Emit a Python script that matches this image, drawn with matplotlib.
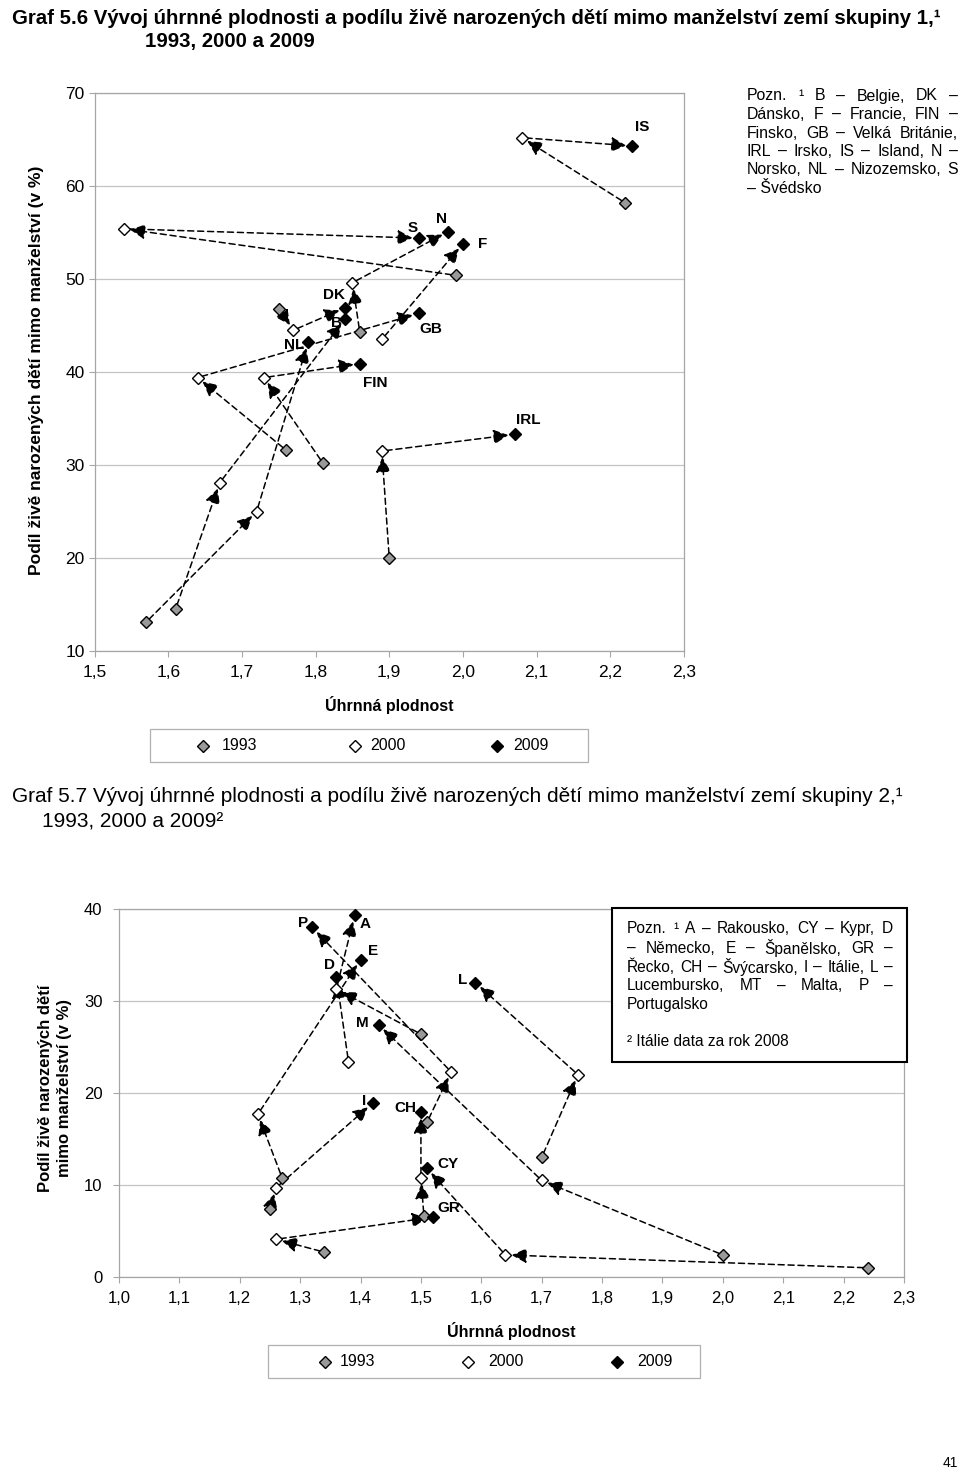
import numpy as np
import matplotlib
matplotlib.use('Agg')
import matplotlib.pyplot as plt
from matplotlib.lines import Line2D
from matplotlib.patches import Rectangle

nan = np.nan

# --- Graf 5.6: group 1 countries ---
top_countries = ['B', 'DK', 'F', 'FIN', 'GB', 'IRL', 'IS', 'N', 'NL', 'S']
top_tfr_1993 = [1.61, 1.75, nan, 1.81, 1.76, 1.90, 2.22, 1.86, 1.57, 1.99]
top_nm_1993 = [14.5, 46.8, nan, 30.2, 31.6, 20.0, 58.2, 44.3, 13.1, 50.4]
top_tfr_2000 = [1.67, 1.77, 1.89, 1.73, 1.64, 1.89, 2.08, 1.85, 1.72, 1.54]
top_nm_2000 = [28.1, 44.5, 43.5, 39.4, 39.4, 31.5, 65.2, 49.6, 25.0, 55.4]
top_tfr_2009 = [1.84, 1.84, 2.00, 1.86, 1.94, 2.07, 2.23, 1.98, 1.79, 1.94]
top_nm_2009 = [45.7, 46.9, 53.8, 40.9, 46.3, 33.3, 64.3, 55.1, 43.2, 54.4]
top_xticks = [1.5, 1.6, 1.7, 1.8, 1.9, 2.0, 2.1, 2.2, 2.3]
top_xticklabels = ['1,5', '1,6', '1,7', '1,8', '1,9', '2,0', '2,1', '2,2', '2,3']
top_yticks = [10, 20, 30, 40, 50, 60, 70]

# --- Graf 5.7: group 2 countries ---
bot_countries = ['A', 'CY', 'D', 'E', 'GR', 'CH', 'I', 'L', 'M', 'P']
bot_tfr_1993 = [1.50, 2.24, nan, 1.27, 1.34, 1.505, 1.25, 1.70, 2.00, 1.51]
bot_nm_1993 = [26.4, 1.0, nan, 10.8, 2.7, 6.6, 7.4, 13.0, 2.4, 16.8]
bot_tfr_2000 = [1.36, 1.64, 1.38, 1.23, 1.26, 1.50, 1.26, 1.76, 1.70, 1.55]
bot_nm_2000 = [31.3, 2.4, 23.4, 17.7, 4.1, 10.8, 9.7, 22.0, 10.5, 22.3]
bot_tfr_2009 = [1.39, 1.51, 1.36, 1.40, 1.52, 1.50, 1.42, 1.59, 1.43, 1.32]
bot_nm_2009 = [39.3, 11.8, 32.6, 34.5, 6.5, 17.9, 18.9, 32.0, 27.4, 38.0]
bot_xticks = [1.0, 1.1, 1.2, 1.3, 1.4, 1.5, 1.6, 1.7, 1.8, 1.9, 2.0, 2.1, 2.2, 2.3]
bot_xticklabels = ['1,0', '1,1', '1,2', '1,3', '1,4', '1,5', '1,6', '1,7', '1,8',
                   '1,9', '2,0', '2,1', '2,2', '2,3']
bot_yticks = [0, 10, 20, 30, 40]

years = ['1993', '2000', '2009']
year_colors = ['#999999', 'white', 'black']

# label offsets (points) from the 2009 marker
top_label_off = {'B': (-6.5, -3), 'DK': (-8, 9), 'F': (14, 0), 'FIN': (11, -14),
                 'GB': (9, -11), 'IRL': (10, 10), 'IS': (7, 14), 'N': (-5, 9),
                 'NL': (-10, -2), 'S': (-4, 7)}
bot_label_off = {'A': (8, -6), 'CY': (15, 3), 'D': (-5, 9), 'E': (9, 6.5),
                 'GR': (11.5, 6.5), 'CH': (-11, 3), 'I': (-6, 1.5), 'L': (-9, 2),
                 'M': (-11.5, 1.5), 'P': (-6.5, 3)}

W, H = 960, 1476


def fx(px):
    return px / W


def fy(py):
    return 1 - py / H


plt.rcParams['font.family'] = ['Liberation Sans', 'DejaVu Sans']
fig = plt.figure(figsize=(9.6, 14.76), dpi=100)
renderer = fig.canvas.get_renderer()


def draw_chart(ax, series, names, offsets):
    (ta, na), (tb, nb), (tc, nc) = series
    for i in range(len(names)):
        pts = [(ta[i], na[i]), (tb[i], nb[i]), (tc[i], nc[i])]
        pts = [p for p in pts if not np.isnan(p[0])]
        for p, q in zip(pts[:-1], pts[1:]):
            ax.annotate('', xy=q, xytext=p,
                        arrowprops=dict(arrowstyle='-|>,head_length=0.6,head_width=0.3',
                                        color='black', lw=1.1, linestyle=(0, (4, 2.5)),
                                        shrinkA=3, shrinkB=4.5, mutation_scale=15),
                        zorder=2)
    for (t, n), c in zip(series, year_colors):
        ax.plot(t, n, ls='none', marker='D', ms=6.5, mfc=c, mec='black', mew=1, zorder=3)
    for i, name in enumerate(names):
        ax.annotate(name, xy=(tc[i], nc[i]), xytext=offsets[name], textcoords='offset points',
                    ha='center', va='center', fontsize=11, fontweight='bold', zorder=4)


def style_axes(ax, xt, xtl, yt, pad_y, size):
    ax.set_xticks(xt)
    ax.set_xticklabels(xtl)
    ax.set_yticks(yt)
    ax.grid(axis='y', color='#c4c4c4', lw=0.9)
    ax.set_axisbelow(True)
    for s in ax.spines.values():
        s.set_color('#a6a6a6')
        s.set_linewidth(0.9)
    ax.tick_params(axis='both', direction='out', length=4, color='#a6a6a6', labelsize=size)
    ax.tick_params(axis='x', pad=6)
    ax.tick_params(axis='y', pad=pad_y)


def draw_legend(box, items):
    x0, y0, x1, y1 = box
    fig.add_artist(Rectangle((fx(x0), fy(y1)), fx(x1) - fx(x0), fy(y0) - fy(y1),
                             transform=fig.transFigure, fill=False,
                             edgecolor='#b0b0b0', lw=0.9))
    yc = fy((y0 + y1) / 2)
    for (mx, tx), c, lab in zip(items, year_colors, years):
        fig.add_artist(Line2D([fx(mx)], [yc], transform=fig.transFigure, ls='none',
                              marker='D', ms=6.5, mfc=c, mec='black', mew=1))
        fig.text(fx(tx), yc, lab, fontsize=11.5, va='center')


def justify(lines, x0, x1, y0, dy, size):
    for k, line in enumerate(lines):
        y = fy(y0 + k * dy)
        words = line.split()
        arts = [fig.text(0, y, w, fontsize=size, va='center', zorder=6) for w in words]
        widths = [a.get_window_extent(renderer).width for a in arts]
        gap = (x1 - x0 - sum(widths)) / (len(words) - 1)
        x = x0
        for a, w in zip(arts, widths):
            a.set_x(fx(x))
            x += w + gap


# ---------- top chart ----------
fig.text(fx(12), fy(18), 'Graf 5.6 Vývoj úhrnné plodnosti a podílu živě narozených dětí mimo manželství zemí skupiny 1,¹',
         fontsize=14.7, fontweight='bold', va='center')
fig.text(fx(145), fy(42), '1993, 2000 a 2009', fontsize=14.7, fontweight='bold', va='center')

ax1 = fig.add_axes([fx(94.5), fy(651), fx(684) - fx(94.5), fy(93) - fy(651)])
ax1.set_xlim(1.5, 2.3)
ax1.set_ylim(10, 70)
style_axes(ax1, top_xticks, top_xticklabels, top_yticks, 3, 12.5)
draw_chart(ax1, [(top_tfr_1993, top_nm_1993), (top_tfr_2000, top_nm_2000),
                 (top_tfr_2009, top_nm_2009)], top_countries, top_label_off)

fig.text(fx(37), fy(370), 'Podíl živě narozených dětí mimo manželství (v %)', rotation=90,
         ha='center', va='center', fontsize=12.5, fontweight='bold')
fig.text(fx(389), fy(705), 'Úhrnná plodnost', ha='center', va='center', fontsize=11.5,
         fontweight='bold')
draw_legend((150, 729, 588, 762), [(203, 222), (355, 370), (497, 513)])

justify(['Pozn. ¹ B – Belgie, DK –',
         'Dánsko, F – Francie, FIN –',
         'Finsko, GB – Velká Británie,',
         'IRL – Irsko, IS – Island, N –',
         'Norsko, NL – Nizozemsko, S'], 747, 958, 96, 18.5, 11.4)
fig.text(fx(747), fy(96 + 5 * 18.5), '– Švédsko', fontsize=11.4, va='center')

# ---------- bottom chart ----------
fig.text(fx(12), fy(797), 'Graf 5.7 Vývoj úhrnné plodnosti a podílu živě narozených dětí mimo manželství zemí skupiny 2,¹',
         fontsize=15, va='center')
fig.text(fx(42), fy(822), '1993, 2000 a 2009²', fontsize=15, va='center')

ax2 = fig.add_axes([fx(119), fy(1277), fx(904) - fx(119), fy(909) - fy(1277)])
ax2.set_xlim(1.0, 2.3)
ax2.set_ylim(0, 40)
style_axes(ax2, bot_xticks, bot_xticklabels, bot_yticks, 8, 12)
draw_chart(ax2, [(bot_tfr_1993, bot_nm_1993), (bot_tfr_2000, bot_nm_2000),
                 (bot_tfr_2009, bot_nm_2009)], bot_countries, bot_label_off)

fig.text(fx(55), fy(1088), 'Podíl živě narozených dětí\nmimo manželství (v %)', rotation=90,
         ha='center', va='center', fontsize=12, fontweight='bold', linespacing=1.4,
         multialignment='center')
fig.text(fx(511), fy(1331), 'Úhrnná plodnost', ha='center', va='center', fontsize=11.5,
         fontweight='bold')
draw_legend((268, 1345, 700, 1378), [(325, 340), (468, 488), (617, 637)])

fig.add_artist(Rectangle((fx(612), fy(1062)), fx(907) - fx(612), fy(908) - fy(1062),
                         transform=fig.transFigure, facecolor='white', edgecolor='black',
                         lw=1.5, zorder=5))
justify(['Pozn. ¹ A – Rakousko, CY – Kypr, D',
         '– Německo, E – Španělsko, GR –',
         'Řecko, CH – Švýcarsko, I – Itálie, L –',
         'Lucembursko, MT – Malta, P –'], 627, 893, 929, 19, 11.2)
fig.text(fx(627), fy(929 + 4 * 19), 'Portugalsko', fontsize=11.2, va='center', zorder=6)
fig.text(fx(627), fy(1041), '² Itálie data za rok 2008', fontsize=11.2, va='center', zorder=6)

fig.text(fx(950), fy(1463), '41', fontsize=10, ha='center', va='center')

fig.savefig('out.png', dpi=100)
